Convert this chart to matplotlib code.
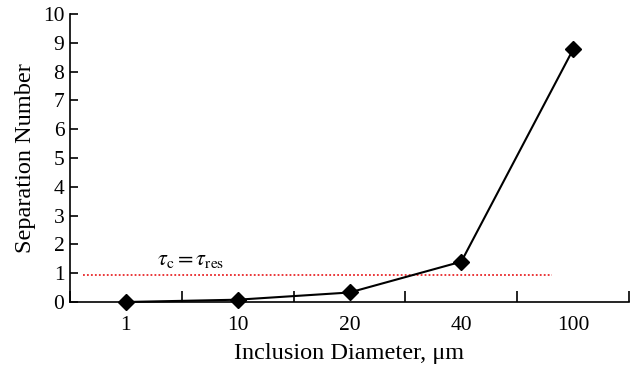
import matplotlib
matplotlib.use('Agg')
import matplotlib.pyplot as plt
import numpy as np

# ── Data ──────────────────────────────────────────────────────────────────────
diameters = ['1', '10', '20', '40', '100']
sep_number = [0.0, 0.08, 0.33, 1.4, 8.77]
threshold = 0.95

plt.rcParams['font.family'] = ['Liberation Serif']
plt.rcParams['mathtext.fontset'] = 'stix'

fig = plt.figure(figsize=(6.36, 3.68), dpi=100)
ax = fig.add_axes([70 / 636, 1 - 302 / 368, (629 - 70) / 636, (302 - 14) / 368])

x = np.arange(len(diameters))
ax.plot(x, sep_number, color='black', lw=1.5, marker='D', ms=8, clip_on=False, zorder=3)
ax.plot([-0.38, 3.81], [threshold, threshold], color='#e8272a', ls=(0, (1, 1.2)), lw=1.3)
ax.text(0.58, 1.1, r'$\tau_\mathrm{c} = \tau_\mathrm{res}$', fontsize=16, ha='center', va='bottom')

ax.set_xlim(-0.5, len(diameters) - 0.5)
ax.set_ylim(0, 10)
ax.set_xticks(x)
ax.set_xticklabels(diameters)
ax.set_xticks(np.arange(-0.5, len(diameters)), minor=True)
ax.tick_params(axis='x', which='major', length=0, labelsize=15.5, pad=10)
ax.tick_params(axis='x', which='minor', direction='in', length=8, width=1.2)
ax.set_yticks(range(11))
ax.tick_params(axis='y', direction='in', length=6, width=1.2, labelsize=15.5, pad=4)

for s in ['top', 'right']:
    ax.spines[s].set_visible(False)
for s in ['left', 'bottom']:
    ax.spines[s].set_linewidth(1.2)

ax.set_xlabel('Inclusion Diameter, μm', fontsize=17.5, labelpad=6)
ax.set_ylabel('Separation Number', fontsize=17.5, labelpad=5)

plt.savefig('out.png', dpi=100)
